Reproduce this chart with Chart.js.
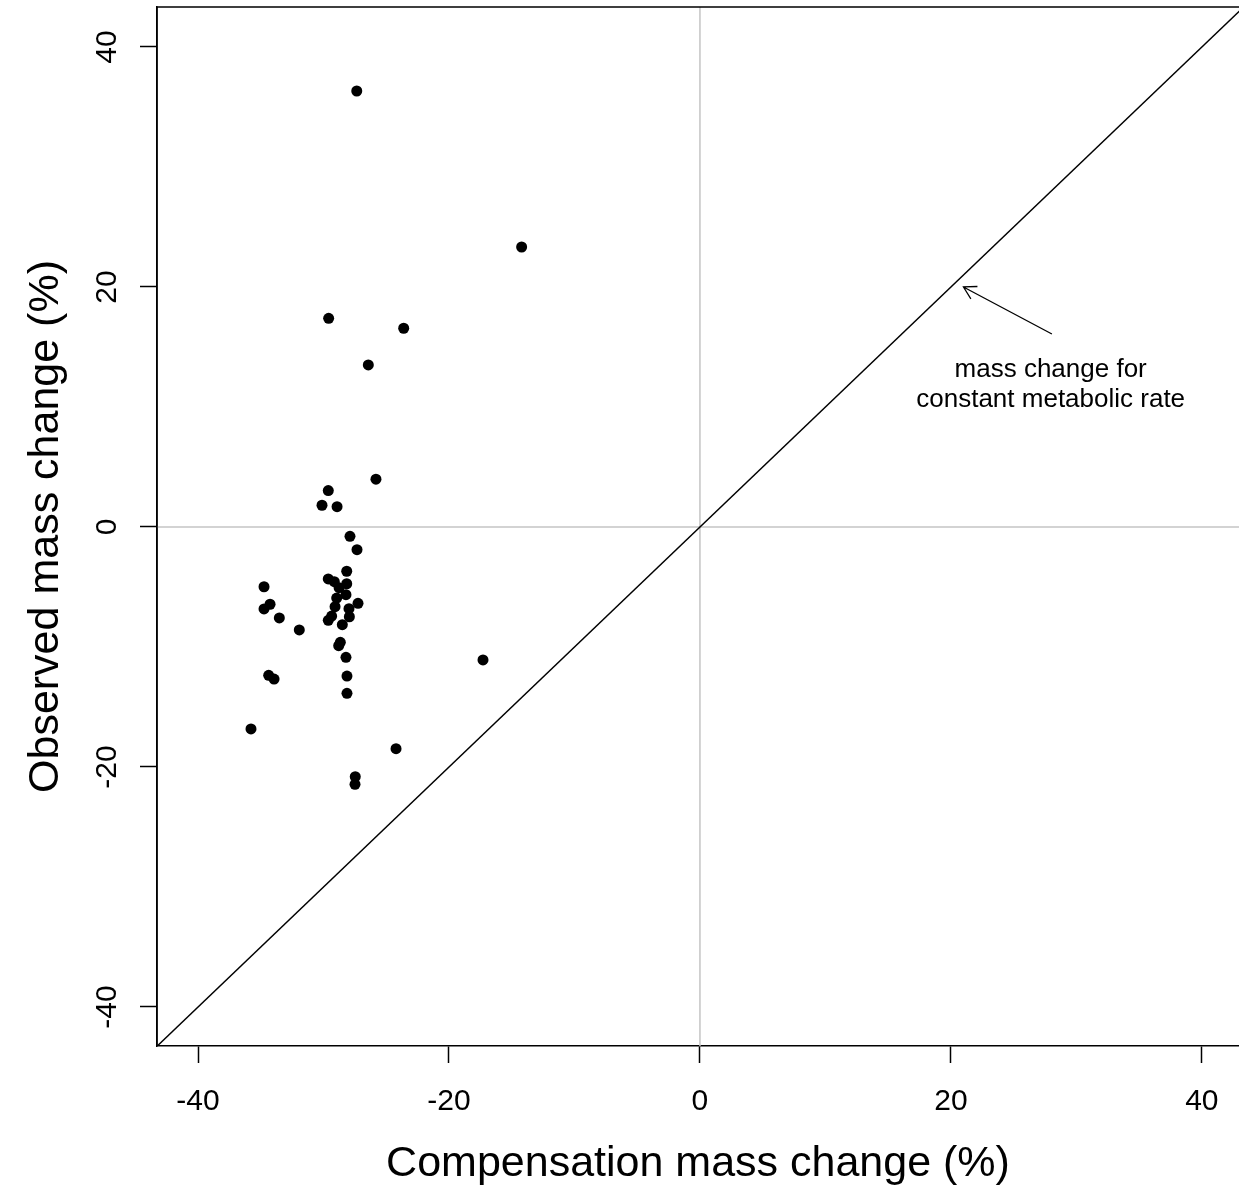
<!DOCTYPE html>
<html>
<head>
<meta charset="utf-8">
<script src="https://cdn.jsdelivr.net/npm/chart.js@4.4.1/dist/chart.umd.min.js"></script>
<style>
  html, body { margin: 0; padding: 0; background: #ffffff; }
  #wrap { width: 1239px; height: 1188px; position: relative; }
</style>
</head>
<body>
<div id="wrap"><canvas id="c"></canvas></div>
<script>
// ---- data ----
const compensation = [-27.35, -14.21, -29.59, -23.61, -26.43, -25.82, -29.62, -30.12, -28.92, -27.89,
  -27.33, -28.15, -29.62, -29.14, -28.15, -28.76, -34.74, -28.21, -28.95, -34.26,
  -34.74, -27.25, -27.97, -29.08, -27.94, -33.52, -29.35, -29.62, -28.50, -31.93,
  -28.66, -28.79, -28.21, -34.37, -33.94, -28.13, -28.13, -35.78, -24.22, -27.47,
  -27.49, -17.29];
const observed = [36.33, 23.33, 17.39, 16.56, 13.50, 3.98, 3.03, 1.81, 1.69, -0.78,
  -1.89, -3.69, -4.33, -4.56, -4.73, -5.06, -4.98, -5.64, -5.92, -6.44,
  -6.83, -6.36, -6.81, -6.64, -7.48, -7.58, -7.42, -7.78, -8.14, -8.58,
  -9.61, -9.89, -10.86, -12.36, -12.67, -12.42, -13.86, -16.83, -18.47, -20.81,
  -21.44, -11.08];
const xTicks = [-40, -20, 0, 20, 40];
const yTicks = [-40, -20, 0, 20, 40];
const refLineRange = [-50, 50];          // y = x reference line
const zeroValue = 0;                     // grey reference lines at 0
const annotationLines = ['mass change for', 'constant metabolic rate'];
const arrowHead = {x: 21.0, y: 20.0};
const arrowTail = {x: 28.05, y: 16.08};
const annotationCenter = {x: 27.95, y1: 13.08, y2: 10.58};

const FONT = '"Liberation Sans", Arial, Helvetica, sans-serif';

const points = compensation.map((v, i) => ({x: v, y: observed[i]}));
const diag = refLineRange.map(v => ({x: v, y: v}));
const hZero = refLineRange.map(v => ({x: v, y: zeroValue}));
const vZero = refLineRange.map(v => ({x: zeroValue, y: v}));

function noPad(s) {
  s.paddingTop = 0; s.paddingBottom = 0; s.paddingLeft = 0; s.paddingRight = 0;
}

const boxPlugin = {
  id: 'box',
  afterDatasetsDraw(chart) {
    const {ctx, chartArea: a, scales: {x, y}} = chart;
    ctx.save();
    ctx.strokeStyle = '#000';
    ctx.lineWidth = 1.5;
    ctx.beginPath();
    ctx.moveTo(a.left, a.bottom);
    ctx.lineTo(a.left, a.top);
    ctx.lineTo(a.right + 2, a.top);
    ctx.stroke();

    // arrow
    const hx = x.getPixelForValue(arrowHead.x), hy = y.getPixelForValue(arrowHead.y);
    const tx = x.getPixelForValue(arrowTail.x), ty = y.getPixelForValue(arrowTail.y);
    ctx.lineWidth = 1.3;
    ctx.beginPath();
    ctx.moveTo(tx, ty);
    ctx.lineTo(hx, hy);
    const ang = Math.atan2(ty - hy, tx - hx);
    const L = 14, spread = Math.PI / 6;
    ctx.moveTo(hx + L * Math.cos(ang - spread), hy + L * Math.sin(ang - spread));
    ctx.lineTo(hx, hy);
    ctx.lineTo(hx + L * Math.cos(ang + spread), hy + L * Math.sin(ang + spread));
    ctx.stroke();

    // annotation text
    ctx.fillStyle = '#000';
    ctx.font = '26px ' + FONT;
    ctx.textAlign = 'center';
    ctx.textBaseline = 'middle';
    const cx = x.getPixelForValue(annotationCenter.x);
    ctx.fillText(annotationLines[0], cx, y.getPixelForValue(annotationCenter.y1));
    ctx.fillText(annotationLines[1], cx, y.getPixelForValue(annotationCenter.y2));
    ctx.restore();
  }
};

new Chart(document.getElementById('c'), {
  type: 'scatter',
  data: {
    datasets: [
      {
        data: points,
        backgroundColor: '#000',
        borderColor: '#000',
        pointRadius: 5.5,
        pointHoverRadius: 5.5,
        borderWidth: 0
      },
      {
        type: 'line',
        data: diag,
        borderColor: '#000',
        borderWidth: 1.5,
        pointRadius: 0,
        fill: false,
        clip: 0
      },
      {
        type: 'line',
        data: hZero,
        borderColor: '#c4c4c4',
        borderWidth: 1.5,
        pointRadius: 0,
        fill: false,
        clip: 0
      },
      {
        type: 'line',
        data: vZero,
        borderColor: '#c4c4c4',
        borderWidth: 1.5,
        pointRadius: 0,
        fill: false,
        clip: 0
      }
    ]
  },
  options: {
    responsive: true,
    maintainAspectRatio: false,
    animation: false,
    events: [],
    layout: { autoPadding: false, padding: { top: 7, left: 0, right: 0, bottom: 0 } },
    plugins: { legend: { display: false }, tooltip: { enabled: false } },
    scales: {
      x: {
        type: 'linear',
        min: -43.27,
        max: 42.96,
        afterBuildTicks: s => { s.ticks = xTicks.map(v => ({value: v})); },
        afterFit: s => { s.height = 142; noPad(s); },
        grid: { drawOnChartArea: false, drawTicks: true, tickLength: 17, tickColor: '#000', tickWidth: 1.5 },
        border: { display: true, color: '#000', width: 1.5 },
        ticks: { color: '#000', font: { family: FONT, size: 30 }, padding: 21, maxRotation: 0, minRotation: 0 },
        title: { display: true, text: 'Compensation mass change (%)', color: '#000',
                 font: { family: FONT, size: 43, lineHeight: 1.1 }, padding: { top: 0, bottom: 0 } }
      },
      y: {
        type: 'linear',
        min: -43.25,
        max: 43.33,
        afterBuildTicks: s => { s.ticks = yTicks.map(v => ({value: v})); },
        afterFit: s => { s.width = 157; noPad(s); },
        grid: { drawOnChartArea: false, drawTicks: true, tickLength: 17, tickColor: '#000', tickWidth: 1.5 },
        border: { display: true, color: '#000', width: 1.5 },
        ticks: { color: '#000', font: { family: FONT, size: 30 }, padding: 11, minRotation: 90, maxRotation: 90, crossAlign: 'center' },
        title: { display: true, text: 'Observed mass change (%)', color: '#000',
                 font: { family: FONT, size: 43, lineHeight: 1.2 }, padding: { top: 20, bottom: 0 } }
      }
    }
  },
  plugins: [boxPlugin]
});
</script>
</body>
</html>
